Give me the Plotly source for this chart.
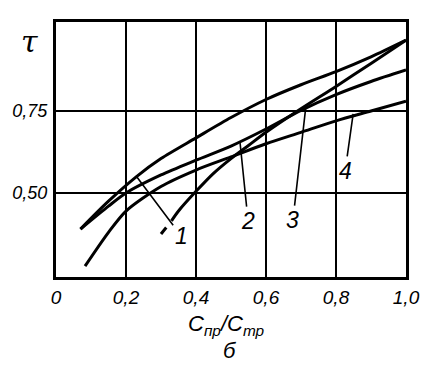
import plotly.graph_objects as go

# ---- data ----
x_ticks = [0, 0.2, 0.4, 0.6, 0.8, 1.0]
x_ticktext = ["0", "0,2", "0,4", "0,6", "0,8", "1,0"]
y_ticks = [0.50, 0.75]
y_ticktext = ["0,50", "0,75"]

c1_x = [0.07, 0.15, 0.23, 0.30, 0.40, 0.50, 0.60, 0.70, 0.80, 0.90, 1.00]
c1_y = [0.39, 0.475, 0.55, 0.605, 0.668, 0.73, 0.785, 0.83, 0.87, 0.915, 0.966]

c2_x = [0.07, 0.15, 0.20, 0.30, 0.40, 0.50, 0.60, 0.70, 0.80, 0.90, 1.00]
c2_y = [0.39, 0.46, 0.50, 0.555, 0.60, 0.643, 0.695, 0.752, 0.80, 0.84, 0.875]

c3_x = [0.30, 0.315, None, 0.33, 0.35, 0.40, 0.45, 0.50, 0.55, 0.60, 0.69, 0.80, 0.90, 1.00]
c3_y = [0.375, 0.395, None, 0.415, 0.445, 0.505, 0.56, 0.605, 0.645, 0.685, 0.75, 0.825, 0.895, 0.966]

c4_x = [0.083, 0.15, 0.20, 0.30, 0.40, 0.50, 0.60, 0.70, 0.80, 0.90, 1.00]
c4_y = [0.277, 0.38, 0.445, 0.52, 0.57, 0.61, 0.65, 0.685, 0.72, 0.75, 0.78]

labels = ["1", "2", "3", "4"]
label_x = [0.229, 0.526, 0.714, 0.849]
label_y = [0.552, 0.652, 0.765, 0.741]

FONT = "Liberation Sans, DejaVu Sans, sans-serif"

fig = go.Figure()
for xs, ys in [(c1_x, c1_y), (c2_x, c2_y), (c3_x, c3_y), (c4_x, c4_y)]:
    fig.add_trace(go.Scatter(x=xs, y=ys, mode="lines",
                             line=dict(color="black", width=3, shape="spline", smoothing=0.8),
                             connectgaps=False, showlegend=False, hoverinfo="skip"))

offsets = [(45, 60), (8, 78), (-13, 114), (-8, 57)]
for lab, lx, ly, (ax, ay) in zip(labels, label_x, label_y, offsets):
    fig.add_annotation(x=lx, y=ly, text=lab, showarrow=True, arrowhead=0,
                       arrowwidth=1.6, arrowcolor="black", ax=ax, ay=ay,
                       font=dict(family=FONT, size=23, color="black", style="italic"))

fig.add_annotation(xref="paper", yref="paper", x=-0.045, y=1.0, xanchor="right", yanchor="top",
                   text="τ", showarrow=False,
                   font=dict(family="DejaVu Serif, serif", size=30, color="black", style="italic"))
fig.add_annotation(xref="paper", yref="paper", x=0.486, y=-0.19, xanchor="center", yanchor="middle",
                   text="C<sub>пр</sub>/C<sub>тр</sub>", showarrow=False,
                   font=dict(family=FONT, size=22, color="black", style="italic"))
fig.add_annotation(xref="paper", yref="paper", x=0.497, y=-0.29, xanchor="center", yanchor="middle",
                   text="б", showarrow=False,
                   font=dict(family=FONT, size=22, color="black", style="italic"))

fig.update_xaxes(range=[0, 1.0], tickvals=x_ticks, ticktext=x_ticktext,
                 showgrid=True, gridcolor="black", gridwidth=2,
                 showline=True, mirror=True, linecolor="black", linewidth=3,
                 zeroline=False, ticks="", ticklabelstandoff=1, automargin=False,
                 tickfont=dict(family=FONT, size=19, color="black", style="italic"))
fig.update_yaxes(range=[0.2439, 1.0213], tickvals=y_ticks, ticktext=y_ticktext,
                 showgrid=True, gridcolor="black", gridwidth=2,
                 showline=True, mirror=True, linecolor="black", linewidth=3,
                 zeroline=False, ticks="", ticklabelstandoff=2, automargin=False,
                 tickfont=dict(family=FONT, size=18, color="black", style="italic"))

fig.update_layout(width=430, height=367, margin=dict(l=48, r=32, t=14, b=98, autoexpand=False),
                  plot_bgcolor="white", paper_bgcolor="white")

fig.write_html("out.html")
